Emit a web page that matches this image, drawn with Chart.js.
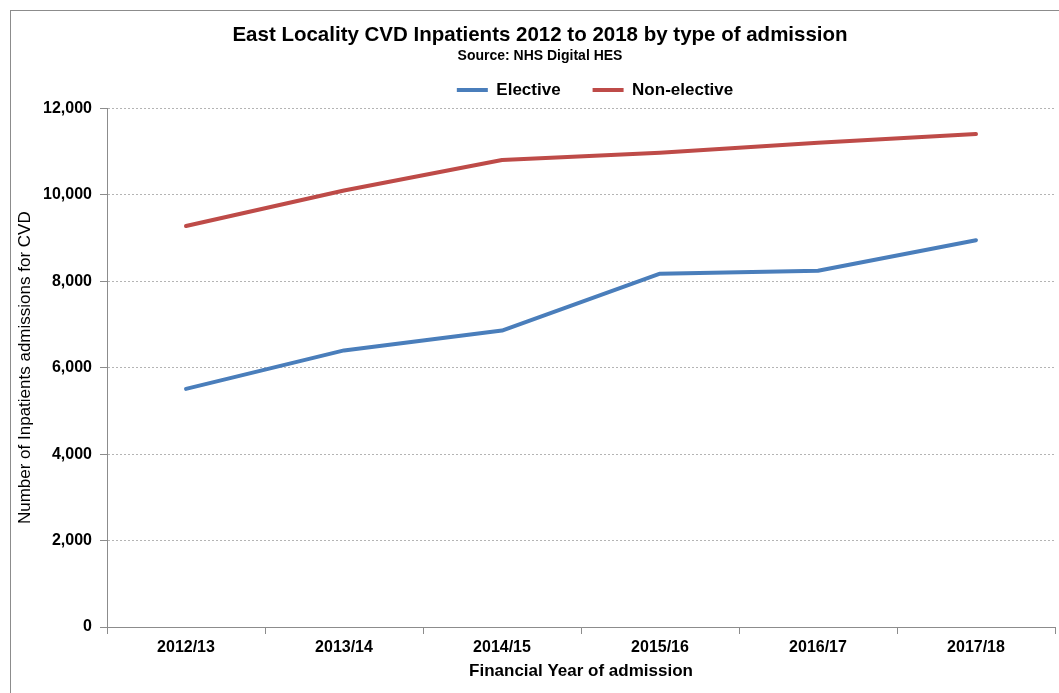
<!DOCTYPE html>
<html>
<head>
<meta charset="utf-8">
<script src="https://cdn.jsdelivr.net/npm/chart.js@4/dist/chart.umd.min.js"></script>
<style>
  html, body { margin: 0; padding: 0; background: #fff; }
  #wrap { position: relative; width: 1059px; height: 693px; overflow: hidden; }
  #frame { position: absolute; left: 10px; top: 10px; width: 1100px; height: 760px; border: 1px solid #8c8c8c; }
  #chart { position: absolute; left: 0; top: 0; }
</style>
</head>
<body>
<div id="wrap">
  <div id="frame"></div>
  <canvas id="chart" width="1059" height="693"></canvas>
</div>
<script>
const YEARS = ["2012/13", "2013/14", "2014/15", "2015/16", "2016/17", "2017/18"];
const ELECTIVE = [5510, 6400, 6860, 8175, 8245, 8950];
const NON_ELECTIVE = [9280, 10100, 10805, 10975, 11205, 11405];
const Y_MAX = 12000, Y_STEP = 2000;

const BLUE = "#4a7ebb", RED = "#be4b48", AXIS = "#8c8c8c";
const FONT = "Arial, 'Liberation Sans', sans-serif";
const bold = (size) => ({ family: FONT, size, weight: "bold" });

// legend sits a bit right of the plot centre in the original
const nudgeLegend = {
  id: "nudgeLegend",
  afterLayout(chart) { chart.legend.left += 14; chart.legend.right += 14; },
};

const line = (label, data, color) => ({
  label, data, borderColor: color, backgroundColor: color,
  borderWidth: 4, pointRadius: 0, tension: 0, borderCapStyle: "round", borderJoinStyle: "round",
});

new Chart(document.getElementById("chart"), {
  type: "line",
  data: { labels: YEARS, datasets: [line("Elective", ELECTIVE, BLUE), line("Non-elective", NON_ELECTIVE, RED)] },
  plugins: [nudgeLegend],
  options: {
    responsive: false,
    animation: false,
    layout: { padding: { top: 10, left: 25, right: 4, bottom: 0 } },
    plugins: {
      title: {
        display: true, text: "East Locality CVD Inpatients 2012 to 2018 by type of admission",
        color: "#000", font: bold(20.5), padding: { top: 13, bottom: 0 },
      },
      subtitle: {
        display: true, text: "Source: NHS Digital HES",
        color: "#000", font: bold(14), padding: { top: 0, bottom: -15 },
      },
      legend: {
        fullSize: false,
        labels: {
          color: "#000", font: bold(17),
          boxWidth: 31, boxHeight: 4, padding: 32,
          generateLabels: (chart) => Chart.defaults.plugins.legend.labels.generateLabels(chart)
            .map((l) => ({ ...l, lineWidth: 0 })),
        },
      },
      tooltip: { enabled: false },
    },
    scales: {
      x: {
        offset: true,
        afterFit: (s) => { s.height = 66; },
        grid: { display: true, drawOnChartArea: false, offset: true, tickLength: 7, tickColor: AXIS },
        border: { color: AXIS },
        ticks: { color: "#000", font: bold(16), padding: 4, maxRotation: 0 },
        title: {
          display: true, text: "Financial Year of admission", color: "#000",
          font: bold(17), padding: { top: 4, bottom: 11 },
        },
      },
      y: {
        min: 0, max: Y_MAX,
        afterFit: (s) => { s.width = 82; },
        grid: { color: "#b4b4b4", tickColor: AXIS, tickLength: 7, tickBorderDash: [] },
        border: { color: AXIS, dash: [2, 2] },
        ticks: {
          stepSize: Y_STEP, color: "#000", padding: 8, font: bold(16),
          callback: (v) => v.toLocaleString("en-US"),
        },
        title: {
          display: true, text: "Number of Inpatients admissions for CVD", color: "#000",
          font: { family: FONT, size: 17 }, padding: { top: -10, bottom: 0 },
        },
      },
    },
  },
});
</script>
</body>
</html>
